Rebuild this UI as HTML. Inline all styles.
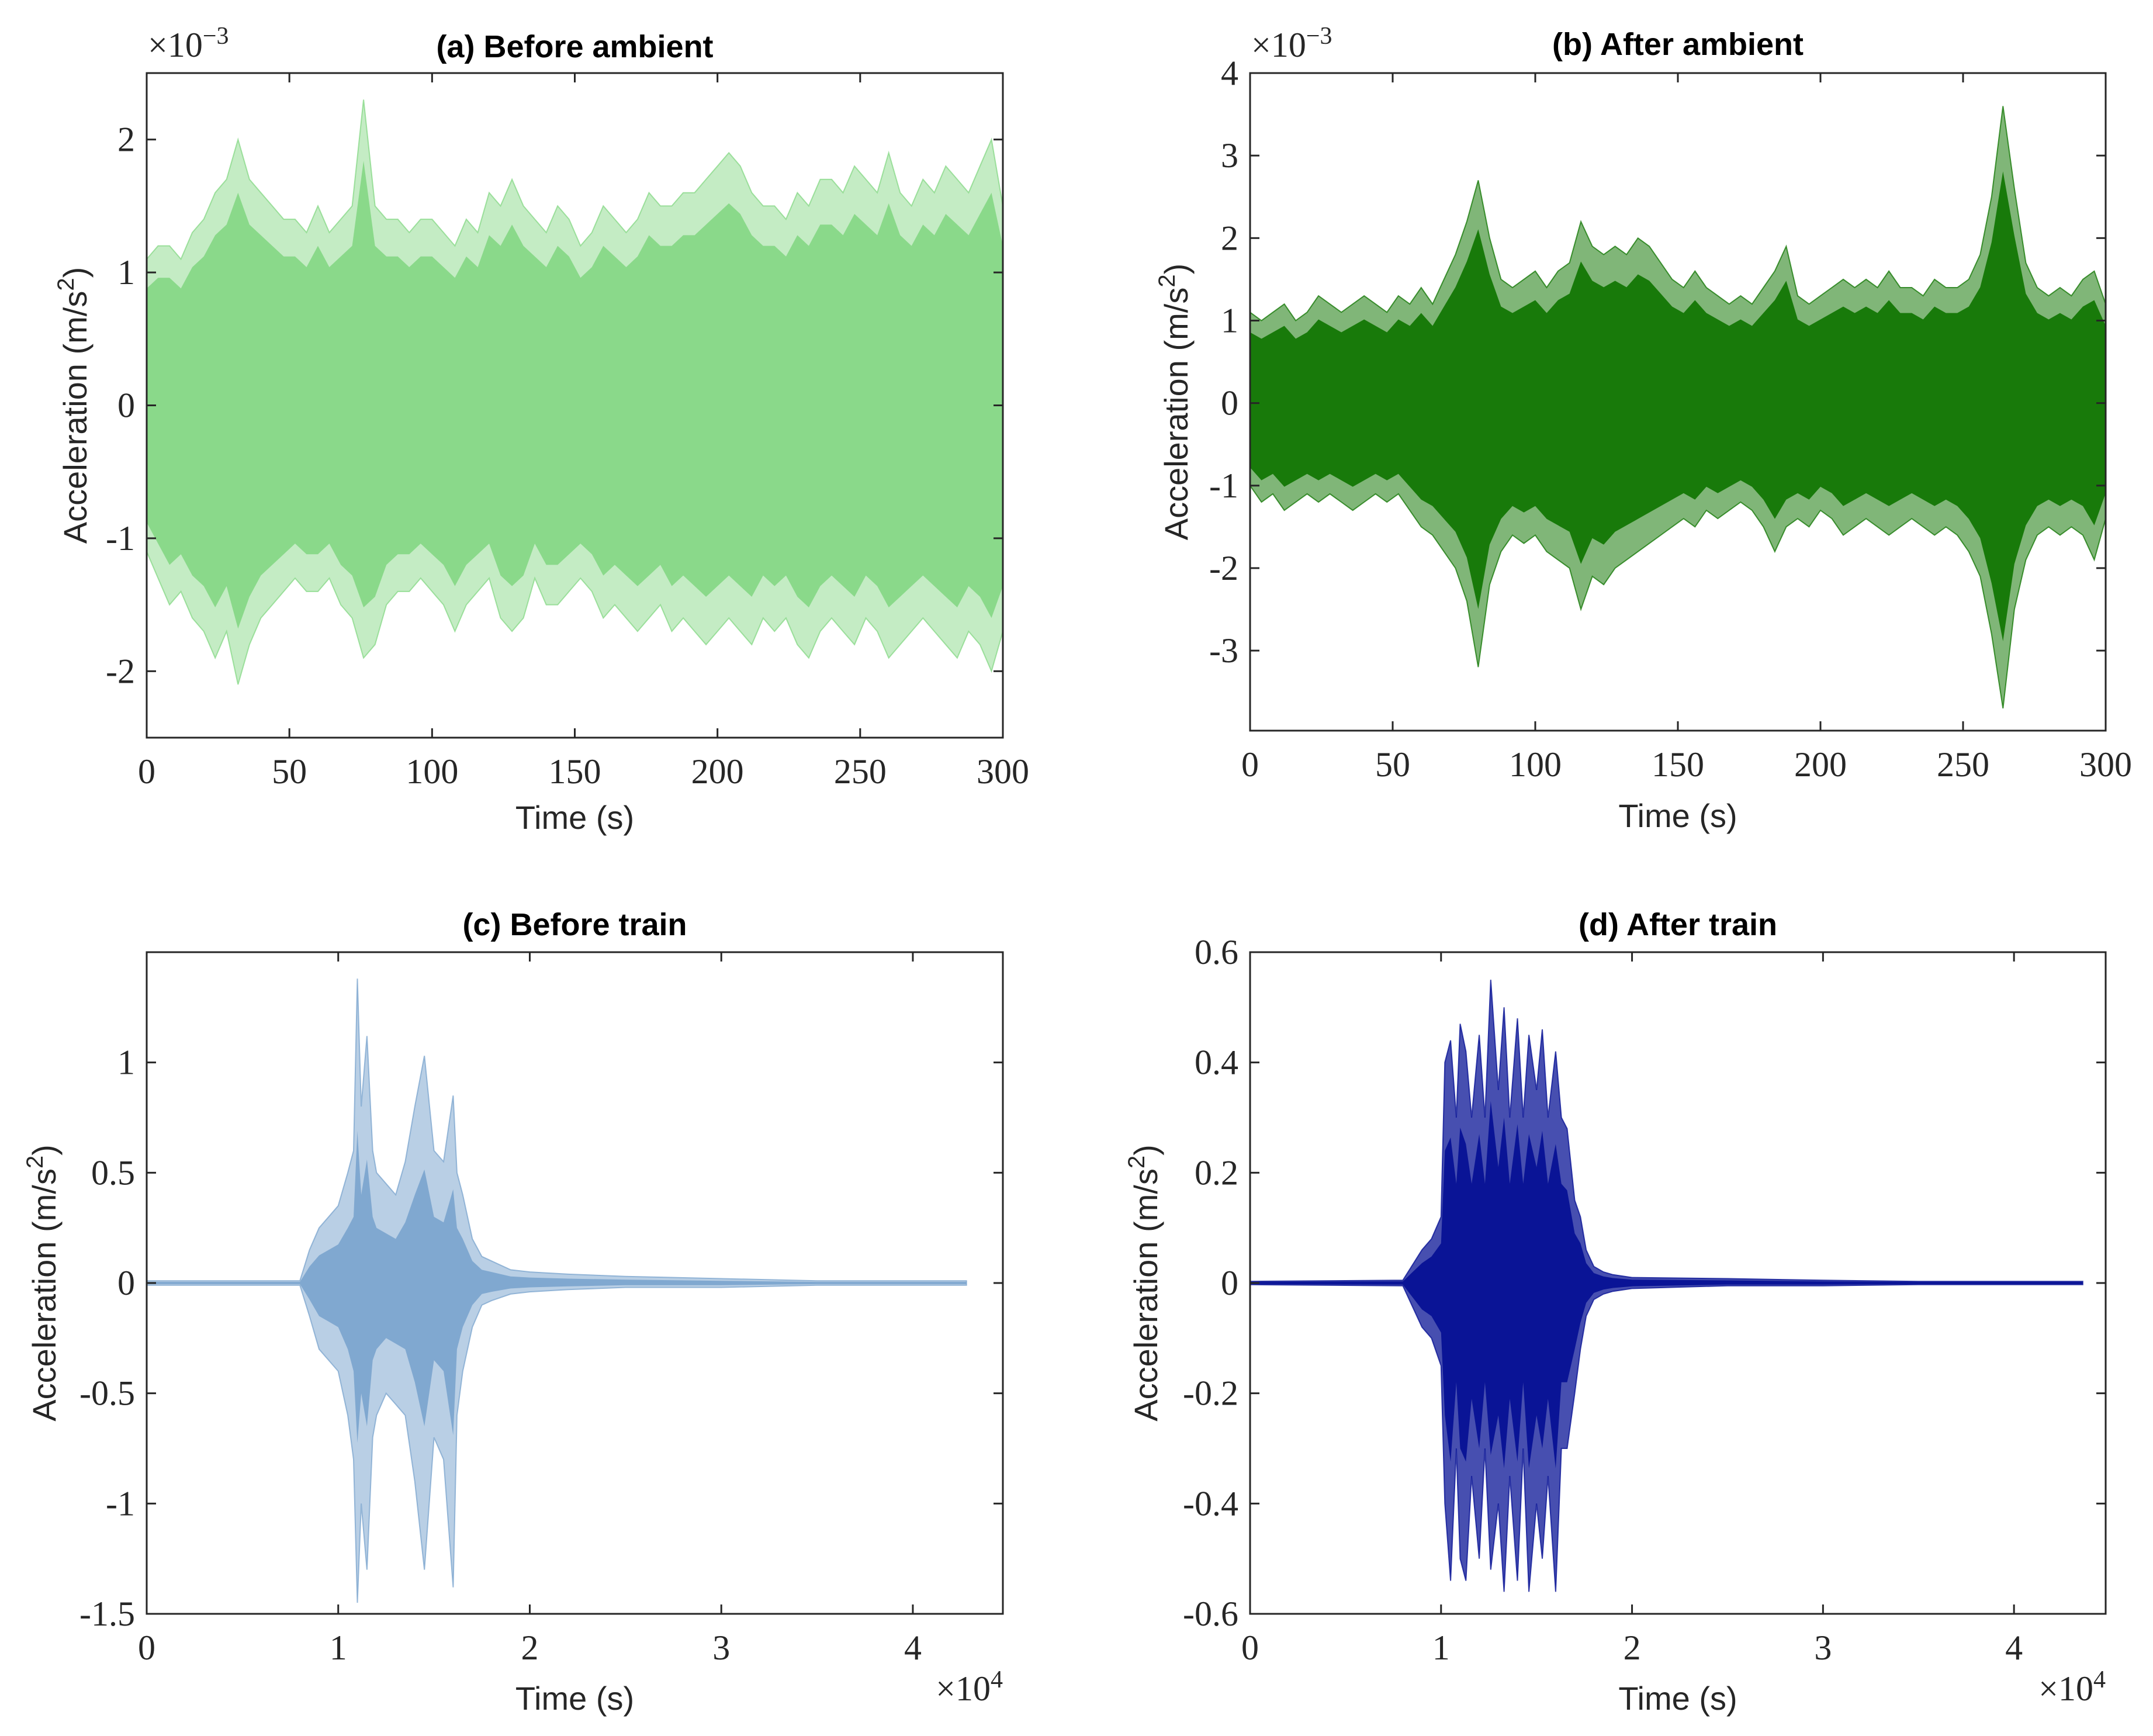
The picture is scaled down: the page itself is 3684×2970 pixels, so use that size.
<!DOCTYPE html>
<html><head><meta charset="utf-8">
<style>
html,body{margin:0;padding:0;background:#fff;}
svg{display:block;}
.tk{font-family:"Liberation Serif",serif;font-size:60px;fill:#262626;}
.lab{font-family:"Liberation Sans",sans-serif;font-size:56px;fill:#262626;}
.ttl{font-family:"Liberation Sans",sans-serif;font-size:54px;font-weight:bold;fill:#000;}
</style></head>
<body>
<svg id="fig" xmlns="http://www.w3.org/2000/svg" width="3684" height="2970" viewBox="0 0 3684 2970"></svg>
<script>
// ---- data (peak envelopes) ----
// (a) Before ambient, x1e-3, uniform over 0..300 s
const aUpper=[1.1,1.2,1.2,1.1,1.3,1.4,1.6,1.7,2.0,1.7,1.6,1.5,1.4,1.4,1.3,1.5,1.3,1.4,1.5,2.3,1.5,1.4,1.4,1.3,1.4,1.4,1.3,1.2,1.4,1.3,1.6,1.5,1.7,1.5,1.4,1.3,1.5,1.4,1.2,1.3,1.5,1.4,1.3,1.4,1.6,1.5,1.5,1.6,1.6,1.7,1.8,1.9,1.8,1.6,1.5,1.5,1.4,1.6,1.5,1.7,1.7,1.6,1.8,1.7,1.6,1.9,1.6,1.5,1.7,1.6,1.8,1.7,1.6,1.8,2.0,1.5];
const aLower=[-1.1,-1.3,-1.5,-1.4,-1.6,-1.7,-1.9,-1.7,-2.1,-1.8,-1.6,-1.5,-1.4,-1.3,-1.4,-1.4,-1.3,-1.5,-1.6,-1.9,-1.8,-1.5,-1.4,-1.4,-1.3,-1.4,-1.5,-1.7,-1.5,-1.4,-1.3,-1.6,-1.7,-1.6,-1.3,-1.5,-1.5,-1.4,-1.3,-1.4,-1.6,-1.5,-1.6,-1.7,-1.6,-1.5,-1.7,-1.6,-1.7,-1.8,-1.7,-1.6,-1.7,-1.8,-1.6,-1.7,-1.6,-1.8,-1.9,-1.7,-1.6,-1.7,-1.8,-1.6,-1.7,-1.9,-1.8,-1.7,-1.6,-1.7,-1.8,-1.9,-1.7,-1.8,-2.0,-1.7];
// (b) After ambient, x1e-3, uniform over 0..300 s
const bUpper=[1.1,1.0,1.1,1.2,1.0,1.1,1.3,1.2,1.1,1.2,1.3,1.2,1.1,1.3,1.2,1.4,1.2,1.5,1.8,2.2,2.7,2.0,1.5,1.4,1.5,1.6,1.4,1.6,1.7,2.2,1.9,1.8,1.9,1.8,2.0,1.9,1.7,1.5,1.4,1.6,1.4,1.3,1.2,1.3,1.2,1.4,1.6,1.9,1.3,1.2,1.3,1.4,1.5,1.4,1.5,1.4,1.6,1.4,1.4,1.3,1.5,1.4,1.4,1.5,1.8,2.5,3.6,2.6,1.7,1.4,1.3,1.4,1.3,1.5,1.6,1.2];
const bLower=[-1.0,-1.2,-1.1,-1.3,-1.2,-1.1,-1.2,-1.1,-1.2,-1.3,-1.2,-1.1,-1.2,-1.1,-1.3,-1.5,-1.6,-1.8,-2.0,-2.4,-3.2,-2.2,-1.8,-1.6,-1.7,-1.6,-1.8,-1.9,-2.0,-2.5,-2.1,-2.2,-2.0,-1.9,-1.8,-1.7,-1.6,-1.5,-1.4,-1.5,-1.3,-1.4,-1.3,-1.2,-1.3,-1.5,-1.8,-1.5,-1.4,-1.5,-1.3,-1.4,-1.6,-1.5,-1.4,-1.5,-1.6,-1.5,-1.4,-1.5,-1.6,-1.5,-1.6,-1.8,-2.1,-2.8,-3.7,-2.5,-1.9,-1.6,-1.5,-1.6,-1.5,-1.6,-1.9,-1.4];
// (c) Before train, time x1e4 s
const cTimes=[0,0.8,0.85,0.9,0.95,1.0,1.05,1.08,1.1,1.12,1.15,1.18,1.2,1.25,1.3,1.35,1.4,1.45,1.5,1.55,1.6,1.62,1.65,1.7,1.75,1.8,1.9,2.0,2.2,2.5,3.0,3.5,4.28];
const cUpper=[0.01,0.01,0.15,0.25,0.3,0.35,0.5,0.6,1.38,0.8,1.12,0.6,0.5,0.45,0.4,0.55,0.8,1.03,0.6,0.55,0.85,0.5,0.4,0.2,0.12,0.1,0.06,0.05,0.04,0.03,0.02,0.01,0.01];
const cLower=[-0.01,-0.01,-0.15,-0.3,-0.35,-0.4,-0.6,-0.8,-1.45,-1.0,-1.3,-0.7,-0.6,-0.5,-0.55,-0.6,-0.9,-1.3,-0.7,-0.8,-1.38,-0.6,-0.4,-0.2,-0.1,-0.08,-0.05,-0.04,-0.03,-0.02,-0.02,-0.01,-0.01];
// (d) After train, time x1e4 s
const dTimes=[0,0.8,0.9,0.95,1.0,1.02,1.05,1.08,1.1,1.13,1.16,1.2,1.23,1.26,1.3,1.33,1.36,1.4,1.43,1.46,1.5,1.53,1.56,1.6,1.63,1.66,1.7,1.73,1.76,1.8,1.85,1.9,2.0,2.5,3.0,3.5,4.36];
const dUpper=[0.003,0.005,0.06,0.08,0.12,0.4,0.44,0.3,0.47,0.42,0.3,0.45,0.3,0.55,0.35,0.5,0.3,0.48,0.3,0.45,0.35,0.46,0.3,0.42,0.3,0.28,0.15,0.12,0.06,0.03,0.02,0.015,0.01,0.008,0.005,0.003,0.003];
const dLower=[-0.003,-0.005,-0.08,-0.1,-0.15,-0.4,-0.54,-0.3,-0.5,-0.54,-0.35,-0.5,-0.3,-0.52,-0.4,-0.56,-0.35,-0.54,-0.3,-0.56,-0.4,-0.5,-0.35,-0.56,-0.3,-0.3,-0.2,-0.12,-0.06,-0.03,-0.02,-0.015,-0.01,-0.005,-0.005,-0.003,-0.003];
// tick labels
const ambXTicks=[0,50,100,150,200,250,300];
const aYTicks=[-2,-1,0,1,2];
const bYTicks=[-3,-2,-1,0,1,2,3,4];
const trainXTicks=[0,1,2,3,4];
const cYTicks=[-1.5,-1,-0.5,0,0.5,1];
const dYTicks=[-0.6,-0.4,-0.2,0,0.2,0.4,0.6];

const NS='http://www.w3.org/2000/svg';
const svg=document.getElementById('fig');
function mk(tag,attrs,parent){const e=document.createElementNS(NS,tag);for(const k in attrs)e.setAttribute(k,attrs[k]);(parent||svg).appendChild(e);return e;}

function panel(o){
  const g=mk('g',{});
  
  
  const sx=v=>o.x0+(v-o.xmin)/(o.xmax-o.xmin)*(o.x1-o.x0);
  const sy=v=>o.y1-(v-o.ymin)/(o.ymax-o.ymin)*(o.y1-o.y0);
  const n=Math.min(o.up.length,o.lo.length);
  const tx=i=>o.times?o.times[i]:o.xmin+i*(o.tEnd-o.xmin)/(n-1);
  let pts=[];
  for(let i=0;i<n;i++)pts.push(sx(tx(i)).toFixed(1)+','+sy(o.up[i]).toFixed(1));
  for(let i=n-1;i>=0;i--)pts.push(sx(tx(i)).toFixed(1)+','+sy(o.lo[i]).toFixed(1));
  const env=mk('polygon',{points:pts.join(' '),fill:o.color,'fill-opacity':o.envOp,stroke:o.color,'stroke-width':2,'stroke-opacity':0.8},g);
  
  
  pts=[];
  for(let i=0;i<n;i++)pts.push(sx(tx(i)).toFixed(1)+','+sy(o.up[i]*o.core).toFixed(1));
  for(let i=n-1;i>=0;i--)pts.push(sx(tx(i)).toFixed(1)+','+sy(o.lo[i]*o.core).toFixed(1));
  const core=mk('polygon',{points:pts.join(' '),fill:o.color,stroke:'none'},g);
  
  
  const box=mk('rect',{x:o.x0,y:o.y0,width:o.x1-o.x0,height:o.y1-o.y0,fill:'none',stroke:'#262626','stroke-width':3},g);
  
  
  const TL=16;
  o.xt.forEach(v=>{
    const x=sx(v);
    mk('line',{x1:x,x2:x,y1:o.y1,y2:o.y1-TL,stroke:'#262626','stroke-width':3},g);
    mk('line',{x1:x,x2:x,y1:o.y0,y2:o.y0+TL,stroke:'#262626','stroke-width':3},g);
    const t=mk('text',{x:x,y:o.y1+78,'text-anchor':'middle',class:'tk'},g);
    t.textContent=String(v);
    
    
  });
  o.yt.forEach(v=>{
    const y=sy(v);
    mk('line',{x1:o.x0,x2:o.x0+TL,y1:y,y2:y,stroke:'#262626','stroke-width':3},g);
    mk('line',{x1:o.x1,x2:o.x1-TL,y1:y,y2:y,stroke:'#262626','stroke-width':3},g);
    const t=mk('text',{x:o.x0-20,y:y+20,'text-anchor':'end',class:'tk'},g);
    t.textContent=String(v);
    
    
  });
  const ti=mk('text',{x:(o.x0+o.x1)/2,y:o.titleY,'text-anchor':'middle',class:'ttl'},g);
  ti.textContent=o.title;
  
  
  const xl=mk('text',{x:(o.x0+o.x1)/2,y:o.xlabY,'text-anchor':'middle',class:'lab'},g);
  xl.textContent='Time (s)';
  
  
  const cy=(o.y0+o.y1)/2;
  const yl=mk('text',{x:o.ylabX,y:cy,'text-anchor':'middle',class:'lab',transform:'rotate(-90 '+o.ylabX+' '+cy+')'},g);
  yl.innerHTML='Acceleration (m/s<tspan dy="-22" font-size="40">2</tspan><tspan dy="22">)</tspan>';
  
  
  if(o.yexp){
    const e=mk('text',{x:o.x0+2,y:o.y0-28,class:'tk'},g);
    e.innerHTML='×10<tspan dy="-22" font-size="42">−3</tspan>';
    
    
  }
  if(o.xexp){
    const e=mk('text',{x:o.x1,y:o.y1+148,'text-anchor':'end',class:'tk'},g);
    e.innerHTML='×10<tspan dy="-22" font-size="42">4</tspan>';
    
    
  }
}

panel({name:'panel-a-before-ambient',x0:251,x1:1716,y0:125,y1:1262,xmin:0,xmax:300,tEnd:300,ymin:-2.5,ymax:2.5,
  up:aUpper,lo:aLower,color:'#8ad98a',core:0.8,envOp:0.5,xt:ambXTicks,yt:aYTicks,title:'(a) Before ambient',titleY:98,xlabY:1418,ylabX:148,yexp:true});
panel({name:'panel-b-after-ambient',x0:2139,x1:3603,y0:125,y1:1250,xmin:0,xmax:300,tEnd:300,ymin:-3.97,ymax:4,
  up:bUpper,lo:bLower,color:'#187a0a',core:0.78,envOp:0.55,xt:ambXTicks,yt:bYTicks,title:'(b) After ambient',titleY:94,xlabY:1415,ylabX:2032,yexp:true});
panel({name:'panel-c-before-train',x0:251,x1:1716,y0:1629,y1:2761,xmin:0,xmax:4.47,times:cTimes,ymin:-1.5,ymax:1.5,
  up:cUpper,lo:cLower,color:'#80a8d0',core:0.5,envOp:0.55,xt:trainXTicks,yt:cYTicks,title:'(c) Before train',titleY:1600,xlabY:2925,ylabX:95,xexp:true});
panel({name:'panel-d-after-train',x0:2139,x1:3603,y0:1629,y1:2761,xmin:0,xmax:4.48,times:dTimes,ymin:-0.6,ymax:0.6,
  up:dUpper,lo:dLower,color:'#0a1496',core:0.6,envOp:0.75,xt:trainXTicks,yt:dYTicks,title:'(d) After train',titleY:1600,xlabY:2925,ylabX:1980,xexp:true});
</script>
</body></html>
